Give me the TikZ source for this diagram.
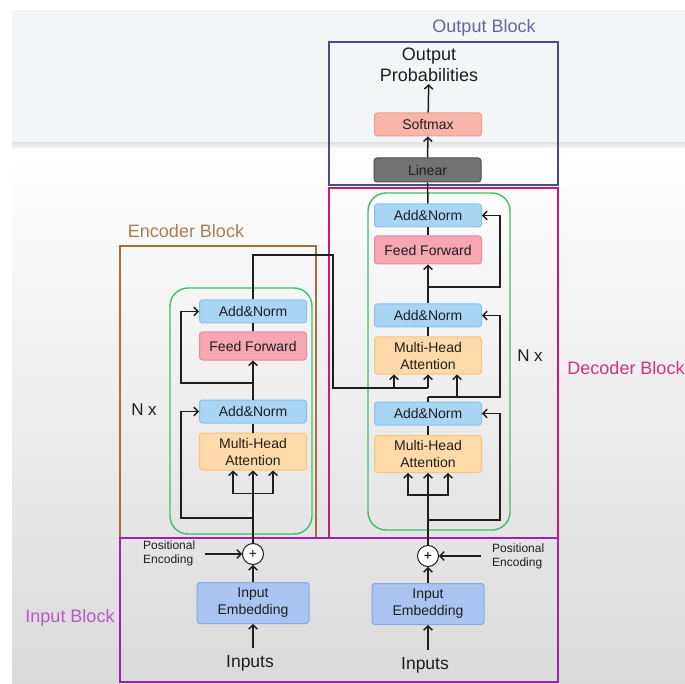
\documentclass[tikz,border=0pt]{standalone}
\usepackage{fontspec}
\setmainfont{Liberation Sans}
\usetikzlibrary{arrows.meta}

\definecolor{outblue}{HTML}{4B4B8C}
\definecolor{decpink}{HTML}{CC1A72}
\definecolor{encbrown}{HTML}{A3703A}
\definecolor{inpurple}{HTML}{A020B4}
\definecolor{nxgreen}{HTML}{3DBE6B}
\definecolor{normfill}{HTML}{A9D5F5}
\definecolor{normline}{HTML}{86C1EE}
\definecolor{fffill}{HTML}{F5A6B3}
\definecolor{ffline}{HTML}{E98A9A}
\definecolor{attfill}{HTML}{FFD9A8}
\definecolor{attline}{HTML}{F9C27E}
\definecolor{smfill}{HTML}{F8B6A9}
\definecolor{smline}{HTML}{F19A8B}
\definecolor{linfill}{HTML}{737373}
\definecolor{linline}{HTML}{4C4C4C}
\definecolor{embfill}{HTML}{AAC3F1}
\definecolor{embline}{HTML}{87A7E7}
\definecolor{bgtop}{HTML}{F4F5F7}
\definecolor{bgstrip}{HTML}{E4E5E7}
\definecolor{bgbot}{HTML}{DADADA}
\definecolor{ink}{HTML}{1E1E1E}

\begin{document}
\begin{tikzpicture}[x=1pt, y=-1pt, >={Straight Barb[length=4pt,width=8.5pt]},
    wire/.style ={line width=1.5pt, draw=ink},
    stage/.style ={rectangle, rounded corners=3pt, line width=1pt, inner sep=0pt,
                   minimum width=107pt, minimum height=23pt, align=center, text=ink,
                   font=\fontsize{14}{17}\selectfont},
    addnorm/.style ={stage, fill=normfill, draw=normline},
    feedfwd/.style ={stage, fill=fffill, draw=ffline, minimum height=28pt},
    attention/.style ={stage, fill=attfill, draw=attline, minimum height=37pt},
    softmax/.style ={stage, fill=smfill, draw=smline},
    linear/.style ={stage, fill=linfill, draw=linline, minimum height=24pt},
    embed/.style ={stage, fill=embfill, draw=embline, minimum width=112pt, minimum height=41pt},
    adder/.style ={circle, draw=ink, fill=white, line width=1pt, minimum size=21pt,
                   inner sep=0pt, font=\fontsize{14}{14}\selectfont},
    caption/.style ={inner sep=0pt, font=\fontsize{18}{21}\selectfont},
    plain/.style ={inner sep=0pt, text=ink, align=center, font=\fontsize{17.5}{21}\selectfont},
    posenc/.style ={inner sep=0pt, text=ink, align=left, font=\fontsize{12}{14}\selectfont}]
   \useasboundingbox (0,0) rectangle (685,684);

   % background of the screenshot
   \fill[white] (0,0) rectangle (685,684);
   \fill[bgtop] (12,10) rectangle (685,143);
   \shade[top color=bgstrip, bottom color=bgtop!60!white] (12,143) rectangle (685,149);
   \shade[top color=white, bottom color=bgbot] (12,149) rectangle (685,684);

   % blocks
   \draw[nxgreen, line width=1.4pt, rounded corners=18pt] (170,288) rectangle (312,534);
   \draw[nxgreen, line width=1.4pt, rounded corners=18pt] (368,193) rectangle (510,530);
   \draw[outblue, line width=2.4pt] (329,42) rectangle (558,185);
   \draw[decpink, line width=2.4pt] (329,188) rectangle (558,538);
   \draw[encbrown, line width=2.4pt] (120,246) rectangle (316,538);
   \draw[inpurple, line width=2.4pt] (120,538) rectangle (558,682);

   \node[caption, text=outblue!85!white] (TO) at (484,28) {Output Block};
   \node[caption, text=decpink!90!white] (TD) at (626,368) {Decoder Block};
   \node[caption, text=encbrown!90!white] (TE) at (186,231) {Encoder Block};
   \node[caption, text=inpurple!75!white] (TI) at (70,618) {Input Block};
   \node[plain, font=\fontsize{17}{20}\selectfont] (NE) at (144,410) {N x};
   \node[plain, font=\fontsize{17}{20}\selectfont] (ND) at (530,356) {N x};

   % output side
   \node[plain, font=\fontsize{18}{21}\selectfont, inner sep=2pt] (OP) at (429,65) {Output\\Probabilities};
   \node[softmax] (SM) at (428,124.5) {Softmax};
   \node[linear] (LI) at (427.5,170) {Linear};

   % encoder
   \node[attention] (EM) at (253,451.5) {Multi-Head\\Attention};
   \node[addnorm] (EN1) at (253,411.5) {Add\&Norm};
   \node[feedfwd] (EF) at (253,346) {Feed Forward};
   \node[addnorm] (EN2) at (253,311.5) {Add\&Norm};

   % decoder
   \node[attention] (DM1) at (428,454) {Multi-Head\\Attention};
   \node[addnorm] (DN1) at (428,413.5) {Add\&Norm};
   \node[attention] (DM2) at (428,355.5) {Multi-Head\\Attention};
   \node[addnorm] (DN2) at (428,315.5) {Add\&Norm};
   \node[feedfwd] (DF) at (428,250) {Feed Forward};
   \node[addnorm] (DN3) at (428,215.5) {Add\&Norm};

   % inputs
   \node[adder] (EC) at (253,554) {+};
   \node[posenc, anchor=west] (EP) at (143,553) {Positional\\Encoding};
   \node[embed] (EE) at (253,603) {Input\\Embedding};
   \node[plain] (EI) at (250,663) {Inputs};
   \node[adder] (DC) at (428,556) {+};
   \node[posenc, anchor=west] (DP) at (492,556) {Positional\\Encoding};
   \node[embed] (DE) at (428,604) {Input\\Embedding};
   \node[plain] (DI) at (425,665) {Inputs};

   \coordinate (EJ1) at (253,518);
   \coordinate (EJ2) at (253,383);
   \coordinate (EK) at (333,255);
   \coordinate (EL) at (333,388);
   \coordinate (DJ1) at (428,520);
   \coordinate (DJ2) at (428,397);
   \coordinate (DJ3) at (428,287);

   \draw[wire,->,shorten <=7pt] (EI.north -| EE.south) to (EE.south);
   \draw[wire,->] (EE) to (EC);
   \draw[wire,->,shorten <=10pt] (EP.east |- EC) to (EC.west);
   \draw[wire,->] (EC) to (EM);
   \draw[wire,<->] ([xshift=-20pt]EM.south) -- ++(0,23) -- ++(40,0) -- ([xshift=20pt]EM.south);
   \draw[wire,->] (EJ1) -| ([xshift=-18pt]EN1.west) -- (EN1.west);
   \draw[wire] (EM) to (EN1);
   \draw[wire,->] (EN1) to (EF);
   \draw[wire,->] (EJ2) -| ([xshift=-18pt]EN2.west) -- (EN2.west);
   \draw[wire] (EF) to (EN2);
   \draw[wire] (EN2.north) |- (EK) -- (EL) -- (EL -| DM2);
   \draw[wire,->] (EL -| DM2) to (DM2.south);
   \draw[wire,->] ([xshift=-34pt]DM2.south |- EL) to ([xshift=-34pt]DM2.south);

   \draw[wire,->,shorten <=7pt] (DI.north -| DE.south) to (DE.south);
   \draw[wire,->] (DE) to (DC);
   \draw[wire,->,shorten <=11pt] (DP.west |- DC) to (DC.east);
   \draw[wire,->] (DC) to (DM1);
   \draw[wire,<->] ([xshift=-20pt]DM1.south) -- ++(0,22) -- ++(40,0) -- ([xshift=20pt]DM1.south);
   \draw[wire,->] (DJ1) -| ([xshift=18pt]DN1.east) -- (DN1.east);
   \draw[wire] (DM1) to (DN1);
   \draw[wire] (DN1.north) -- (DJ2);
   \draw[wire,->] (DJ2) -| ([xshift=18pt]DN2.east) -- (DN2.east);
   \draw[wire,->] (DJ2) -| ([xshift=29pt]DM2.south);
   \draw[wire] (DM2) to (DN2);
   \draw[wire,->] (DN2) to (DF);
   \draw[wire,->] (DJ3) -| ([xshift=18pt]DN3.east) -- (DN3.east);
   \draw[wire] (DF) to (DN3);
   \draw[wire] (DN3) to (LI);
   \draw[wire,->] (LI) to (SM);
   \draw[wire,->] (SM) to (OP);
 \end{tikzpicture}
\end{document}
